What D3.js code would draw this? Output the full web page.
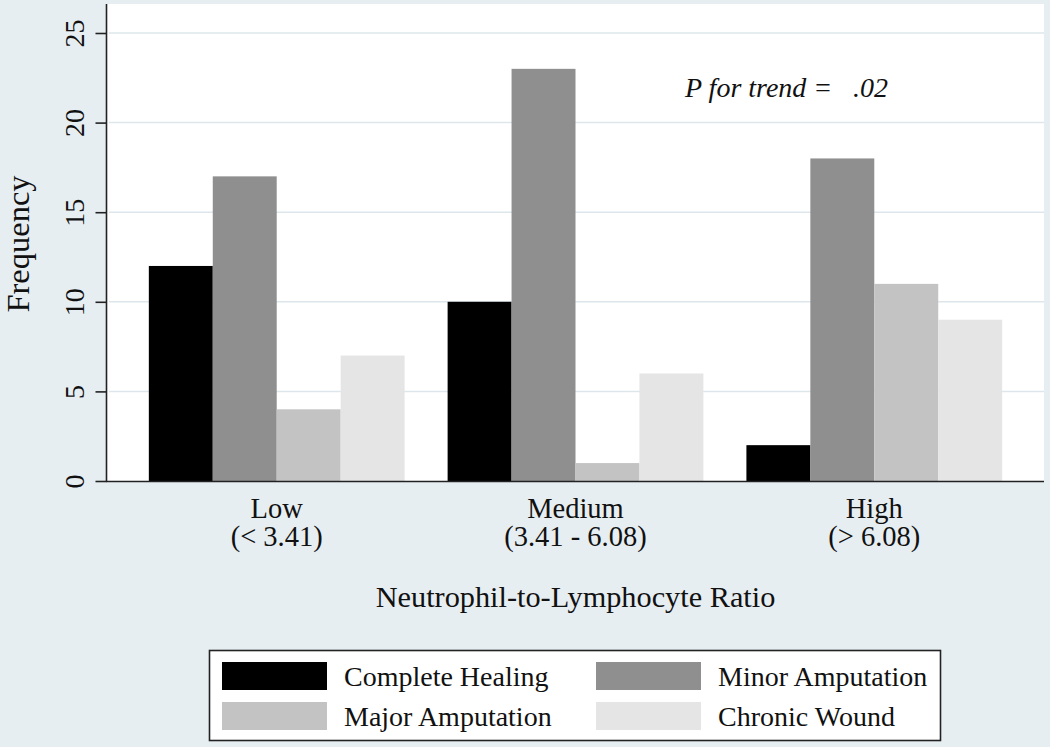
<!DOCTYPE html>
<html>
<head>
<meta charset="utf-8">
<script src="https://cdn.jsdelivr.net/npm/d3@7"></script>
<style>
  html, body { margin: 0; padding: 0; background: #e7eef1; }
  svg { display: block; }
  text { font-family: "Liberation Serif", "Times New Roman", serif; fill: #111; }
</style>
</head>
<body>
<script>
const categories = ["Low", "Medium", "High"];
const categoryRanges = ["(< 3.41)", "(3.41 - 6.08)", "(> 6.08)"];
const seriesNames = ["Complete Healing", "Minor Amputation", "Major Amputation", "Chronic Wound"];
const seriesColors = ["#000000", "#8f8f8f", "#c3c3c3", "#e5e5e5"];
const completeHealing = [12, 10, 2];
const minorAmputation = [17, 23, 18];
const majorAmputation = [4, 1, 11];
const chronicWound = [7, 6, 9];
const yTicks = [0, 5, 10, 15, 20, 25];
const xTitle = "Neutrophil-to-Lymphocyte Ratio";
const yTitle = "Frequency";
const annotationLabel = "P for trend =";
const annotationValue = ".02";

const seriesValues = [completeHealing, minorAmputation, majorAmputation, chronicWound];

const W = 1050, H = 747;
const plot = { left: 107, right: 1044, top: 4, bottom: 481 };

const svg = d3.select("body").append("svg").attr("width", W).attr("height", H);
svg.append("rect").attr("width", W).attr("height", H).attr("fill", "#e7eef1");

// plot region
svg.append("rect")
  .attr("x", plot.left).attr("y", plot.top)
  .attr("width", plot.right - plot.left).attr("height", plot.bottom - plot.top)
  .attr("fill", "#ffffff");

const x0 = d3.scaleBand().domain(categories).range([plot.left, plot.right])
  .paddingInner(0.144).paddingOuter(0.14);
const x1 = d3.scaleBand().domain(seriesNames).range([0, x0.bandwidth()]).padding(0);
const y = d3.scaleLinear().domain([0, 25]).range([plot.bottom, 33]);

// gridlines
svg.append("g").selectAll("line").data(yTicks.filter(d => d > 0)).join("line")
  .attr("x1", plot.left + 2).attr("x2", plot.right)
  .attr("y1", d => y(d)).attr("y2", d => y(d))
  .attr("stroke", "#dde7eb").attr("stroke-width", 1.5);

// bars
const groups = svg.append("g").selectAll("g").data(categories).join("g")
  .attr("transform", d => `translate(${x0(d)},0)`);
groups.selectAll("rect")
  .data((c, ci) => seriesNames.map((s, si) => ({ s, si, v: seriesValues[si][ci] })))
  .join("rect")
  .attr("x", d => x1(d.s))
  .attr("width", x1.bandwidth())
  .attr("y", d => y(d.v))
  .attr("height", d => y(0) - y(d.v))
  .attr("fill", d => seriesColors[d.si]);

// y axis
const yAxis = d3.axisLeft(y).tickValues(yTicks).tickSize(11).tickFormat(d3.format("d"));
const gy = svg.append("g").attr("transform", `translate(${plot.left - 0.5},0)`).call(yAxis);
gy.select(".domain").attr("stroke", "#222").attr("stroke-width", 1.6)
  .attr("d", `M0,${plot.top}V${plot.bottom}`);
gy.selectAll(".tick line").attr("stroke", "#222").attr("stroke-width", 1.6);
gy.selectAll(".tick text")
  .attr("transform", "rotate(-90)")
  .attr("x", 0).attr("y", -23).attr("dy", null)
  .attr("text-anchor", "middle")
  .style("font-family", '"Liberation Serif", serif')
  .style("font-size", "28px").attr("fill", "#111");

// x axis line
const xAxis = d3.axisBottom(x0).tickSize(0).tickFormat("");
const gx = svg.append("g").attr("transform", `translate(0,${plot.bottom + 0.5})`).call(xAxis);
gx.select(".domain").attr("stroke", "#222").attr("stroke-width", 1.6)
  .attr("d", `M${plot.left - 1},0H${plot.right}`);

// category labels
const labels = svg.append("g").selectAll("text").data(categories).join("text")
  .attr("x", d => x0(d) + x0.bandwidth() / 2)
  .attr("text-anchor", "middle")
  .style("font-size", "28.5px");
labels.append("tspan").attr("x", d => x0(d) + x0.bandwidth() / 2).attr("y", 518).text(d => d);
labels.append("tspan").attr("x", d => x0(d) + x0.bandwidth() / 2).attr("y", 546)
  .text((d, i) => categoryRanges[i]);

// axis titles
svg.append("text").attr("x", (plot.left + plot.right) / 2).attr("y", 607)
  .attr("text-anchor", "middle").style("font-size", "30.3px").text(xTitle);
svg.append("text").attr("transform", "translate(29,244) rotate(-90)")
  .attr("text-anchor", "middle").style("font-size", "32.5px").text(yTitle);

// annotation
svg.append("text").attr("x", 685).attr("y", 97).style("font-size", "28px")
  .style("font-style", "italic").text(annotationLabel);
svg.append("text").attr("x", 853).attr("y", 97).style("font-size", "28px")
  .style("font-style", "italic").text(annotationValue);

// legend
const legend = svg.append("g");
legend.append("rect").attr("x", 209.5).attr("y", 650.5).attr("width", 731).attr("height", 90)
  .attr("fill", "#ffffff").attr("stroke", "#222").attr("stroke-width", 1.6);
const legendItems = legend.selectAll("g").data(seriesNames).join("g")
  .attr("transform", (d, i) => `translate(${i % 2 === 0 ? 222 : 596},${i < 2 ? 662 : 702})`);
legendItems.append("rect").attr("width", 105).attr("height", 28)
  .attr("fill", (d, i) => seriesColors[i]);
legendItems.append("text").attr("x", 122).attr("y", 24).style("font-size", "28px").text(d => d);
</script>
</body>
</html>
